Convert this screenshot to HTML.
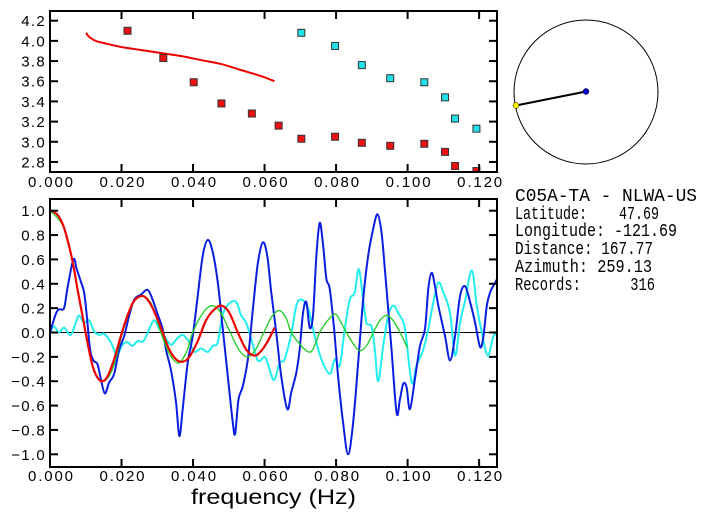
<!DOCTYPE html>
<html><head><meta charset="utf-8"><style>
html,body{margin:0;padding:0;background:#fff;width:707px;height:519px;overflow:hidden}
svg text{font-family:"Liberation Sans",sans-serif;}
</style></head><body>
<svg id="chart" width="707" height="519" viewBox="0 0 707 519" xmlns="http://www.w3.org/2000/svg">
<defs>
<clipPath id="clipTop"><rect x="50" y="11" width="447" height="161"/></clipPath>
<clipPath id="clipBot"><rect x="50" y="199" width="447" height="268"/></clipPath>
</defs>
<g id="topPanel"></g>
<g id="botPanel"></g>
<g>
<circle cx="586" cy="92" r="72" fill="none" stroke="#000" stroke-width="1"/>
<line x1="516" y1="105.5" x2="586" y2="91.5" stroke="#000" stroke-width="2"/>
<circle cx="586" cy="91.5" r="3" fill="#0000cc" stroke="#000" stroke-width="0.5"/>
<circle cx="516" cy="105.5" r="3" fill="#ffee00" stroke="#000" stroke-width="0.5"/>
</g>
<g font-size="18" fill="#000">
<text x="515" y="201" textLength="182" lengthAdjust="spacingAndGlyphs" style="font-family:'Liberation Mono',monospace" xml:space="preserve">C05A-TA - NLWA-US</text>
<text x="515" y="219" textLength="144" lengthAdjust="spacingAndGlyphs" style="font-family:'Liberation Mono',monospace" xml:space="preserve">Latitude:    47.69</text>
<text x="515" y="236" textLength="162" lengthAdjust="spacingAndGlyphs" style="font-family:'Liberation Mono',monospace" xml:space="preserve">Longitude: -121.69</text>
<text x="515" y="254" textLength="138" lengthAdjust="spacingAndGlyphs" style="font-family:'Liberation Mono',monospace" xml:space="preserve">Distance: 167.77</text>
<text x="515" y="272" textLength="137" lengthAdjust="spacingAndGlyphs" style="font-family:'Liberation Mono',monospace" xml:space="preserve">Azimuth: 259.13</text>
<text x="515" y="290" textLength="140" lengthAdjust="spacingAndGlyphs" style="font-family:'Liberation Mono',monospace" xml:space="preserve">Records:      316</text>
</g>
<text x="191" y="504" font-size="21" textLength="165" lengthAdjust="spacingAndGlyphs">frequency (Hz)</text>
</svg>
<script>
// frequencies in mHz, values as read
const xTicks = [0, 20, 40, 60, 80, 100, 120];
const xTickLabels = ["0.000","0.020","0.040","0.060","0.080","0.100","0.120"];
const topYTicks = [2.8,3.0,3.2,3.4,3.6,3.8,4.0,4.2];
const botYTicks = [-1.0,-0.8,-0.6,-0.4,-0.2,0,0.2,0.4,0.6,0.8,1.0];

const redSqF = [21.68,31.68,40.19,47.94,56.45,63.93,70.28,79.72,87.20,95.14,104.67,110.47,113.27,119.25];
const redSqV = [4.10,3.83,3.59,3.38,3.28,3.16,3.03,3.05,2.99,2.96,2.98,2.90,2.76,2.71];
const cyanSqF = [70.28,79.72,87.20,95.14,104.67,110.47,113.27,119.25];
const cyanSqV = [4.08,3.95,3.76,3.63,3.59,3.44,3.23,3.13];
const redLineF = [10.09,10.93,12.8,16.07,19.8,25.4,31.0,36.6,42.2,47.9,53.5,59.1,62.8];
const redLineV = [4.08,4.04,4.00,3.97,3.94,3.91,3.88,3.85,3.81,3.77,3.71,3.65,3.60];

const blueF = [0,1.59,2.52,3.93,4.86,6.54,7.48,8.60,9.53,10.28,11.21,12.15,13.27,14.21,15.33,16.54,17.94,19.35,20.75,22.15,23.55,25.42,27.29,28.69,30.09,31.50,32.43,33.83,35.23,36.17,37.10,38.50,39.91,41.31,42.71,44.11,45.51,46.92,48.32,49.72,51.12,51.78,52.71,53.93,55.33,56.73,58.13,59.53,60.75,61.87,63.27,64.67,66.36,67.48,68.88,69.81,70.75,71.68,72.62,73.55,74.49,75.42,76.36,77.29,78.22,79.44,80.56,81.96,83.36,84.77,86.17,87.57,88.97,90.37,91.59,92.71,93.64,94.58,95.51,96.92,97.85,98.79,99.72,100.65,102.06,103.46,104.86,105.79,106.73,107.66,108.60,110.47,111.87,113.27,114.67,116.07,117.48,118.88,120.28,121.21,122.15,123.08,124.49,125.42];
const blueV = [0,0.15,0.19,0.2,0.36,0.6,0.52,0.42,0.33,0.14,-0.14,-0.23,-0.26,-0.38,-0.5,-0.41,-0.34,-0.14,-0.03,0.14,0.27,0.31,0.35,0.27,0.15,0.03,-0.14,-0.31,-0.57,-0.85,-0.63,-0.25,-0.03,0.30,0.63,0.76,0.66,0.41,0.03,-0.36,-0.74,-0.83,-0.55,-0.44,-0.22,0.19,0.57,0.74,0.63,0.33,0,-0.36,-0.63,-0.49,-0.33,-0.14,0.16,0.25,0.04,0.14,0.63,0.9,0.72,0.44,0.36,0.03,-0.36,-0.74,-1.0,-0.74,-0.25,0.27,0.63,0.85,0.97,0.82,0.52,0.19,-0.14,-0.66,-0.55,-0.42,-0.45,-0.63,-0.38,-0.11,0.03,0.36,0.49,0.38,0.22,-0.03,-0.23,-0.03,0.30,0.38,0.25,0.08,-0.12,-0.03,0.22,0.33,0.41,0.46];

const cyanF = [0,1.12,2.52,3.93,5.79,7.20,8.13,9.53,10.93,12.34,13.74,15.14,17.01,18.69,20.28,21.68,23.08,24.49,26.17,27.76,29.16,30.56,31.96,33.83,35.23,37.10,38.97,40.37,42.24,44.11,45.51,46.92,48.32,50.19,52.06,53.46,54.86,56.26,58.13,60.00,60.93,62.62,64.21,65.61,67.48,68.88,70.28,72.15,74.02,75.89,78.22,79.63,81.03,82.43,83.83,85.23,86.36,87.57,88.50,89.91,90.84,91.78,93.18,94.58,95.98,97.38,99.25,101.12,102.52,104.39,105.79,107.20,108.60,110.00,111.87,113.27,114.67,116.07,117.94,119.35,120.75,122.43,124.02,125.42];
const cyanV = [0,0.05,0,0.04,-0.02,0.08,0.14,0.08,0.10,0.01,-0.02,-0.01,-0.08,-0.18,-0.1,-0.08,-0.11,-0.07,-0.07,0.03,0.10,0.03,-0.03,-0.10,-0.06,-0.02,-0.08,-0.16,-0.13,-0.16,-0.11,-0.08,0.15,0.24,0.25,0.14,0.08,-0.05,-0.23,-0.2,-0.26,-0.39,-0.25,-0.22,-0.01,0.22,0.27,0.20,-0.03,-0.22,-0.34,-0.22,-0.27,0.03,0.27,0.33,0.52,0.27,0.08,0.05,-0.14,-0.40,-0.11,0.14,0.22,0.16,0.03,-0.41,-0.27,-0.14,0.03,0.25,0.41,0.33,0.16,-0.19,0.08,0.26,0.51,0.22,0,-0.19,-0.03,0];

const redF = [0,1.12,2.52,3.93,5.33,6.54,7.66,9.07,10.47,11.87,13.27,14.67,16.07,17.94,19.81,21.68,23.55,25.89,27.76,29.63,31.50,33.36,35.23,37.10,38.97,41.31,43.64,45.98,48.04,50.19,52.52,54.86,57.20,59.07,60.93,62.80];
const redV = [1.0,0.99,0.95,0.86,0.71,0.55,0.36,0.14,-0.08,-0.27,-0.37,-0.40,-0.36,-0.22,-0.03,0.14,0.26,0.30,0.25,0.14,0,-0.14,-0.22,-0.24,-0.2,-0.07,0.10,0.19,0.22,0.16,0,-0.14,-0.19,-0.15,-0.07,0.04];

const greenF = [0,3.93,6.54,9.07,11.87,14.7,17.5,20.3,23.2,25.9,28.6,31.0,33.5,36.0,38.3,39.9,43.0,45.5,47.8,50.4,53.0,55.3,57.5,59.8,62.0,64.2,66.0,67.5,70.6,72.9,74.5,75.4,78.0,79.9,81.4,82.9,85.2,86.9,88.7,90.4,92.3,94.1,95.9,97.9,100.0];
const greenV = [1.0,0.86,0.55,0.14,-0.27,-0.40,-0.3,0,0.24,0.30,0.22,0,-0.18,-0.25,-0.15,0,0.17,0.22,0.16,0,-0.15,-0.20,-0.14,0,0.13,0.18,0.12,0,-0.12,-0.16,-0.07,0,0.11,0.15,0.08,0,-0.11,-0.15,-0.10,0,0.10,0.14,0.10,0,-0.13];

const NS='http://www.w3.org/2000/svg';
const X0=50, X1=497, FMAX=125.0;
function sx(f){return X0+(f/FMAX)*(X1-X0);}
function syTop(v){return 20.7+(4.2-v)*100.9;}
function syBot(v){return 332.5-v*121.8;}
function mk(tag,attrs,parent){const e=document.createElementNS(NS,tag);for(const k in attrs)e.setAttribute(k,attrs[k]);parent.appendChild(e);return e;}
function smoothPath(F,V,sy){
  const p=F.map((f,i)=>[sx(f),sy(V[i])]);
  let d='M'+p[0][0].toFixed(2)+','+p[0][1].toFixed(2);
  for(let i=0;i<p.length-1;i++){
    const a=p[Math.max(i-1,0)],b=p[i],c=p[i+1],e=p[Math.min(i+2,p.length-1)];
    const c1=[b[0]+(c[0]-a[0])/6,b[1]+(c[1]-a[1])/6],c2=[c[0]-(e[0]-b[0])/6,c[1]-(e[1]-b[1])/6];
    d+=' C'+c1[0].toFixed(2)+','+c1[1].toFixed(2)+' '+c2[0].toFixed(2)+','+c2[1].toFixed(2)+' '+c[0].toFixed(2)+','+c[1].toFixed(2);
  }
  return d;
}
function frame(g,yT,yB,yTicks,sy,labY,labFmt){
  for(let i=0;i<xTicks.length;i++){
    const x=sx(xTicks[i]);
    const t1=mk('line',{x1:x,x2:x,y1:yT,y2:yT+8,stroke:'#000','stroke-width':2},g);
    
    
    const t2=mk('line',{x1:x,x2:x,y1:yB,y2:yB-8,stroke:'#000','stroke-width':2},g);
    
    
    const tl=mk('text',{x:x-22,y:labY,'font-size':15,textLength:45,lengthAdjust:'spacing'},g);
    tl.textContent=xTickLabels[i];
    
    
  }
  for(const v of yTicks){
    const y=sy(v);
    const a=mk('line',{x1:X0,x2:X0+8,y1:y,y2:y,stroke:'#000','stroke-width':2},g);
    
    
    const b=mk('line',{x1:X1,x2:X1-8,y1:y,y2:y,stroke:'#000','stroke-width':2},g);
    
    
    const t=mk('text',{x:46,y:y+5.5,'font-size':15,'text-anchor':'end','letter-spacing':1.3},g);
    t.textContent=labFmt(v);
    
    
  }
  const r=mk('rect',{x:X0,y:yT,width:X1-X0,height:yB-yT,fill:'none',stroke:'#000','stroke-width':2},g);
  
  
}
const fmt=v=>(v<0?'\u2212':'')+Math.abs(v).toFixed(1);

// top panel
const topG=document.getElementById('topPanel');


const tc=mk('g',{'clip-path':'url(#clipTop)'},topG);
const rl=mk('path',{d:smoothPath(redLineF,redLineV,syTop),fill:'none',stroke:'#ee0000','stroke-width':2},tc);


function squares(F,V,fill,name){
  for(let i=0;i<F.length;i++){
    const s=mk('rect',{x:sx(F[i])-3.5,y:syTop(V[i])-3.5,width:7,height:7,fill:fill,stroke:'#333','stroke-width':1},tc);
    
    
  }
}
squares(redSqF,redSqV,'#ee1111','phase-velocity-point');
squares(cyanSqF,cyanSqV,'#22e0e8','overtone-velocity-point');
frame(topG,11,172,topYTicks,syTop,187,fmt);

// bottom panel
const botG=document.getElementById('botPanel');


const bc=mk('g',{'clip-path':'url(#clipBot)'},botG);
const zl=mk('line',{x1:X0,x2:X1,y1:syBot(0),y2:syBot(0),stroke:'#000','stroke-width':1},bc);


const series=[[cyanF,cyanV,'#22eeee',2,'cyan-series'],[blueF,blueV,'#0a1ee0',2,'blue-series'],[greenF,greenV,'#22cc22',1.3,'green-series'],[redF,redV,'#ee0000',2.2,'red-series']];
for(const s of series){
  const p=mk('path',{d:smoothPath(s[0],s[1],syBot),fill:'none',stroke:s[2],'stroke-width':s[3]},bc);
  
  
}
frame(botG,199,467,botYTicks,syBot,481,fmt);
</script>
</body></html>
